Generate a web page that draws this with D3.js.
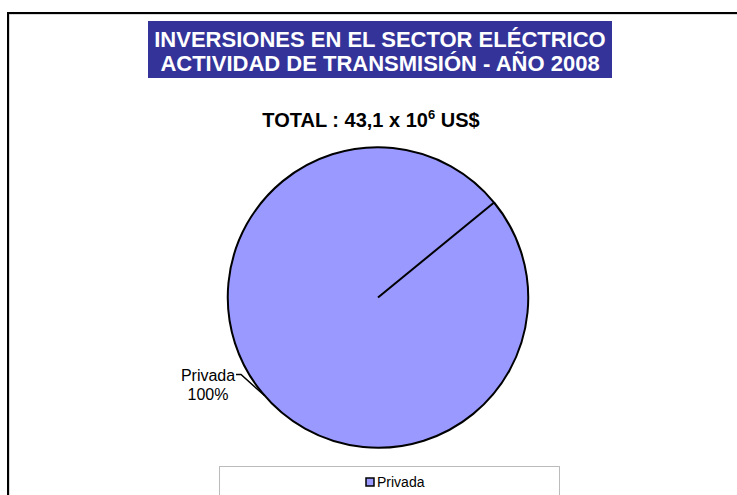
<!DOCTYPE html>
<html>
<head>
<meta charset="utf-8">
<script src="https://cdn.jsdelivr.net/npm/d3@7/dist/d3.min.js"></script>
<style>
  body { margin: 0; background: #fff; }
  svg { display: block; font-family: "Liberation Sans", Arial, sans-serif; }
</style>
</head>
<body>
<svg id="chart" width="737" height="495"></svg>
<script>
// Data
const categories = ['Privada'];
const values = [43.1];
const percentLabels = ['100%'];
const titleLines = ['INVERSIONES EN EL SECTOR ELÉCTRICO', 'ACTIVIDAD DE TRANSMISIÓN - AÑO 2008'];
const colors = ['#9999ff'];

const svg = d3.select('#chart');

// outer frame (extends past right/bottom edge)
svg.append('rect')
    .attr('x', 9).attr('y', 14)
    .attr('width', 760).attr('height', 520)
    .attr('fill', 'none').attr('stroke', '#b0b0b0').attr('stroke-width', 1);
svg.append('path')
    .attr('d', 'M8,540 V13 H760')
    .attr('fill', 'none').attr('stroke', '#000').attr('stroke-width', 2);

// title box
svg.append('rect')
    .attr('x', 148).attr('y', 21)
    .attr('width', 464).attr('height', 57)
    .attr('fill', '#333399');
svg.selectAll('.title')
    .data(titleLines)
    .enter().append('text')
    .attr('class', 'title')
    .attr('x', 380)
    .attr('y', (d, i) => 47 + i * 24)
    .attr('text-anchor', 'middle')
    .attr('fill', '#fff')
    .attr('font-weight', 'bold')
    .attr('font-size', 22)
    .text(d => d);

// total
const total = svg.append('text')
    .attr('x', 371).attr('y', 127)
    .attr('text-anchor', 'middle')
    .attr('font-weight', 'bold')
    .attr('font-size', 20);
total.append('tspan').text('TOTAL : ' + d3.format('.1f')(d3.sum(values)).replace('.', ',') + ' x 10');
total.append('tspan').attr('font-size', 13).attr('dy', -8).text('6');
total.append('tspan').attr('dy', 8).text(' US$');

// pie
const cx = 378, cy = 297.5, r = 150;
const startAngle = 0.885;
const pie = d3.pie().sort(null)
    .startAngle(startAngle).endAngle(startAngle + 2 * Math.PI);
const arcs = pie(values);
const arc = d3.arc().innerRadius(0).outerRadius(r);

const pg = svg.append('g').attr('transform', `translate(${cx},${cy})`);
pg.selectAll('path.slice')
    .data(arcs)
    .enter().append('path')
    .attr('class', 'slice')
    .attr('d', arc)
    .attr('fill', (d, i) => colors[i])
    .attr('stroke', '#000')
    .attr('stroke-width', 2)
    .attr('stroke-linejoin', 'round');
// slice boundary radius
pg.selectAll('line.radius')
    .data(arcs)
    .enter().append('line')
    .attr('class', 'radius')
    .attr('x1', 0).attr('y1', 0)
    .attr('x2', d => Math.sin(d.startAngle) * r)
    .attr('y2', d => -Math.cos(d.startAngle) * r)
    .attr('stroke', '#000').attr('stroke-width', 2);

// label with leader line
const labelAngle = 4.0;
const edge = [Math.sin(labelAngle) * r, -Math.cos(labelAngle) * r];
pg.append('path')
    .attr('d', `M${edge[0]},${edge[1]} L${-137},${77} H${-142}`)
    .attr('fill', 'none').attr('stroke', '#000').attr('stroke-width', 1.5);
const lab = pg.append('text')
    .attr('text-anchor', 'middle')
    .attr('font-size', 16)
    .attr('fill', '#000');
lab.append('tspan').attr('x', -170).attr('y', 83).text(categories[0]);
lab.append('tspan').attr('x', -170).attr('y', 102).text(percentLabels[0]);

// legend
svg.append('rect')
    .attr('x', 219.5).attr('y', 466.5)
    .attr('width', 340).attr('height', 40)
    .attr('fill', '#fff').attr('stroke', '#bbb').attr('stroke-width', 1);
const lg = svg.selectAll('.leg')
    .data(categories)
    .enter().append('g')
    .attr('class', 'leg')
    .attr('transform', 'translate(366,478)');
lg.append('rect')
    .attr('width', 8).attr('height', 8)
    .attr('fill', (d, i) => colors[i])
    .attr('stroke', '#000').attr('stroke-width', 1.5);
lg.append('text')
    .attr('x', 11).attr('y', 9)
    .attr('font-size', 14)
    .text(d => d);
</script>
</body>
</html>
